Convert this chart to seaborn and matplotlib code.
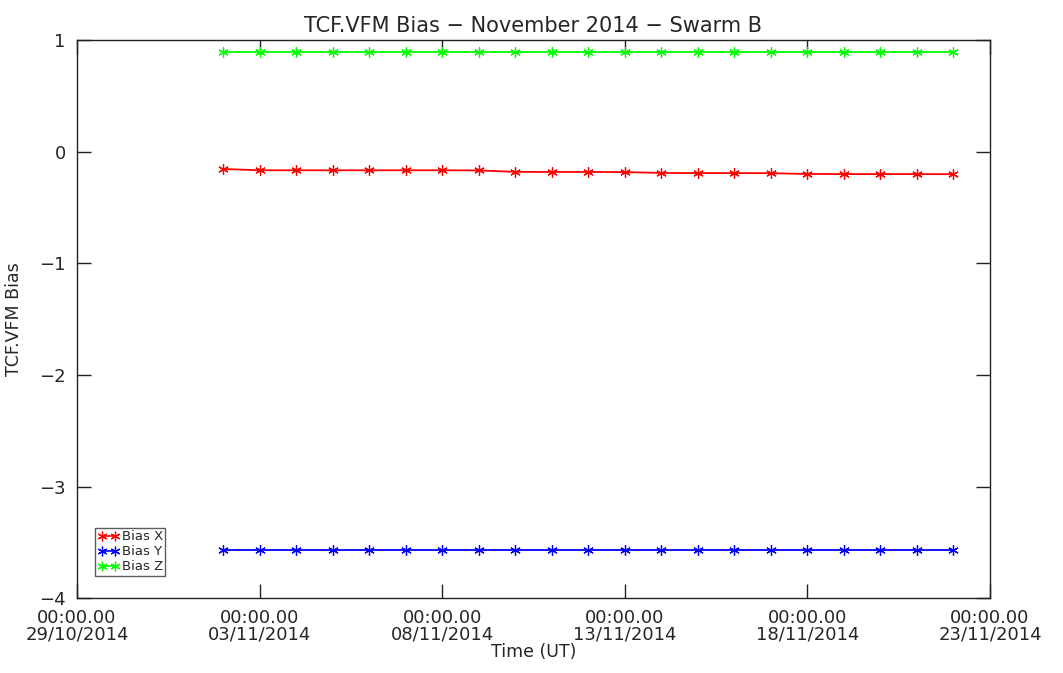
import numpy as np
import pandas as pd
import matplotlib
matplotlib.use("Agg")
import matplotlib.pyplot as plt
import seaborn as sns

# Daily bias estimates, 2-22 November 2014
dates = pd.date_range("2014-11-02", "2014-11-22", freq="D")
bias_x = [-0.155, -0.167, -0.167, -0.167, -0.167, -0.167, -0.167, -0.168,
          -0.181, -0.182, -0.182, -0.183, -0.191, -0.192, -0.192, -0.193,
          -0.200, -0.201, -0.201, -0.201, -0.202]
bias_y = [-3.57] * 21
bias_z = [0.89] * 21

series_names = ["Bias X", "Bias Y", "Bias Z"]
series_colors = ["#ff0000", "#0000ff", "#00ff00"]

df = pd.concat([
    pd.DataFrame({"time": dates, "bias": vals, "component": name})
    for name, vals in zip(series_names, [bias_x, bias_y, bias_z])
], ignore_index=True)

sns.set_style("ticks")
plt.rcParams["font.family"] = ["DejaVu Sans"]

fig = plt.figure(figsize=(10.63, 6.73), dpi=100)
ax = fig.add_axes([0.0724, 0.111, 0.8589, 0.8296])

sns.lineplot(data=df, x="time", y="bias", hue="component",
             palette=dict(zip(series_names, series_colors)),
             marker=(6, 2, 0), markersize=7.5, markeredgewidth=0.9,
             linewidth=1.3, ax=ax, legend=False)

# asterisk markers take the series colour for their strokes
for line in ax.lines:
    line.set_markeredgecolor(line.get_color())
    line.set_markerfacecolor(line.get_color())

ax.set_xlim(pd.Timestamp("2014-10-29"), pd.Timestamp("2014-11-23"))
ax.set_ylim(-4, 1)
ax.set_yticks([-4, -3, -2, -1, 0, 1])
ax.set_yticklabels(["\u22124", "\u22123", "\u22122", "\u22121", "0", "1"])

tick_dates = pd.date_range("2014-10-29", "2014-11-23", freq="5D")
ax.set_xticks(tick_dates)
ax.set_xticklabels([f"00:00.00\n{d:%d/%m/%Y}" for d in tick_dates],
                   linespacing=0.85)

for side in ["top", "right", "left", "bottom"]:
    ax.spines[side].set_visible(True)
    ax.spines[side].set_linewidth(1.0)
    ax.spines[side].set_color("#222222")

ax.tick_params(axis="both", direction="in", length=10, width=1.0,
               top=True, right=True, labelsize=13, color="#222222", pad=8)
ax.tick_params(axis="x", pad=8)

ax.set_title("TCF.VFM Bias \u2212 November 2014 \u2212 Swarm B", fontsize=15, pad=6)
ax.set_xlabel("Time (UT)", fontsize=12.5, labelpad=0)
ax.set_ylabel("TCF.VFM Bias", fontsize=12.5, labelpad=12)

# Legend: line with two asterisk markers per entry
handles = [plt.Line2D([0], [0], color=c, marker=(6, 2, 0), markersize=7,
                      markeredgewidth=0.9, linewidth=1.2)
           for c in series_colors]
leg = ax.legend(handles, series_names, loc="lower left", numpoints=2,
                handlelength=1.6, handletextpad=0.2, fontsize=9.5,
                frameon=True, fancybox=False, borderpad=0.2,
                labelspacing=0.15, bbox_to_anchor=(0.02, 0.04),
                edgecolor="#333333", borderaxespad=0.0)
leg.get_frame().set_linewidth(1.0)

fig.savefig("out.png", dpi=100, facecolor="white")
